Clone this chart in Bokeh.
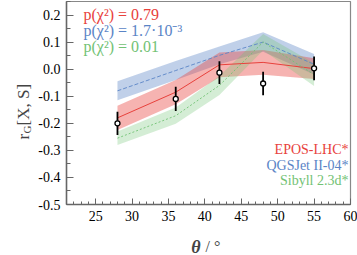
import numpy as np
from bokeh.plotting import figure
from bokeh.models import Label, FixedTicker, PrintfTickFormatter, Range1d
from bokeh.embed import file_html
from bokeh.resources import INLINE

# ---- data ----
theta = [28, 36, 42, 48, 55]
data_r = [-0.200, -0.110, -0.013, -0.053, 0.003]
data_err = [0.043, 0.045, 0.042, 0.043, 0.044]

epos = [-0.180, -0.085, 0.016, 0.025, 0.002]
epos_err = [0.045, 0.045, 0.046, 0.046, 0.038]
qgs = [-0.080, -0.005, 0.051, 0.100, 0.018]
qgs_err = [0.035, 0.035, 0.033, 0.036, 0.038]
sib = [-0.255, -0.172, -0.060, 0.100, -0.020]
sib_err = [0.025, 0.030, 0.035, 0.030, 0.042]

x_ticks = [25, 30, 35, 40, 45, 50, 55, 60]
y_ticks = [-0.5, -0.4, -0.3, -0.2, -0.1, 0.0, 0.1, 0.2]
pvals = ["p(\u03c7\u00b2) = 0.79", "p(\u03c7\u00b2) = 1.7\u00b710\u207b\u00b3", "p(\u03c7\u00b2) = 0.01"]
models = ["EPOS-LHC*", "QGSJet II-04*", "Sibyll 2.3d*"]

RED = "#e8413c"
BLUE = "#5a84c6"
GREEN = "#72c274"
SERIF = "Liberation Serif"

X0, X1, Y0, Y1 = 21.0, 60.0, -0.5, 0.25
W, H = 357, 255
FL, FR, FT, FB = 66, 350, 1, 204

p = figure(width=W, height=H, output_backend="svg", toolbar_location=None,
           x_range=Range1d(X0, X1), y_range=Range1d(Y0, Y1),
           min_border_left=FL, min_border_right=W - FR, min_border_top=FT,
           min_border_bottom=H - FB)
p.grid.visible = False
p.outline_line_color = "#888888"
p.outline_line_width = 1.2
p.background_fill_color = "white"
p.border_fill_color = "white"


def px2x(px):
    return X0 + (px - FL) / (FR - FL) * (X1 - X0)


def py2y(py):
    return Y1 - (py - FT) / (FB - FT) * (Y1 - Y0)


# axes
for ax in (p.xaxis[0], p.yaxis[0]):
    ax.axis_line_color = "#666666"
    ax.axis_line_width = 1.5
    ax.major_tick_line_color = "#666666"
    ax.minor_tick_line_color = "#666666"
    ax.major_tick_out = 0
    ax.minor_tick_out = 0
    ax.major_label_text_font = SERIF
    ax.major_label_text_font_size = "14px"
    ax.major_label_text_color = "black"
    ax.major_label_standoff = 6

p.xaxis.ticker = FixedTicker(ticks=x_ticks, minor_ticks=list(range(22, 61)))
p.xaxis.major_tick_in = 6
p.xaxis.minor_tick_in = 3
p.yaxis.ticker = FixedTicker(ticks=y_ticks,
                             minor_ticks=[-0.45, -0.35, -0.25, -0.15, -0.05, 0.05, 0.15, 0.25])
p.yaxis.major_tick_in = 7
p.yaxis.minor_tick_in = 4
p.yaxis.formatter = PrintfTickFormatter(format="%.1f")

th = np.array(theta, dtype=float)
for c, e, col, alpha in [(qgs, qgs_err, BLUE, 0.38), (epos, epos_err, RED, 0.40),
                         (sib, sib_err, GREEN, 0.30)]:
    c = np.array(c); e = np.array(e)
    p.varea(x=th, y1=c - e, y2=c + e, fill_color=col, fill_alpha=alpha)

p.line(th, qgs, line_color=BLUE, line_width=0.9, line_dash="4 2")
p.line(th, epos, line_color=RED, line_width=1.0)
p.line(th, sib, line_color=GREEN, line_width=0.9, line_dash="2 2")

dr = np.array(data_r); de = np.array(data_err)
p.segment(x0=th, y0=dr - de, x1=th, y1=dr + de, line_color="black", line_width=1.8)
p.scatter(th, dr, size=5, fill_color="white", line_color="black", line_width=1.3)

# legend of p-values
for i, (t, col) in enumerate(zip(pvals, [RED, BLUE, GREEN])):
    p.add_layout(Label(x=px2x(83), y=py2y(14 + 16 * i), text=t, text_font=SERIF,
                       text_font_size="16px", text_color=col, text_baseline="middle"))

for i, (t, col) in enumerate(zip(models, [RED, BLUE, GREEN])):
    p.add_layout(Label(x=px2x(348), y=py2y(149 + 15.5 * i), text=t, text_font=SERIF,
                       text_font_size="14px", text_color=col, text_baseline="middle",
                       text_align="right"))


def side_label(side, px, py, text, **kw):
    # labels outside the frame live in side panels so they are not clipped
    p.add_layout(Label(x=px2x(px), y=py2y(py), text=text, text_font=SERIF, **kw), side)


# y axis label r_G[X, S]
ang = np.pi / 2
side_label("below", 23, 139, "r", angle=ang, text_font_size="17px", text_align="left",
           text_baseline="alphabetic")
side_label("below", 26, 133, "G", angle=ang, text_font_size="11px", text_align="left",
           text_baseline="alphabetic")
side_label("left", 23, 125, "[X, S]", angle=ang, text_font_size="17px", text_align="left",
           text_baseline="alphabetic")

# x axis label theta / degree
side_label("left", 200, 246, "\u03b8", text_font_size="18px", text_font_style="bold italic",
           text_align="right", text_baseline="middle")
side_label("below", 205, 246, "/ \u00b0", text_font_size="16px", text_align="left",
           text_baseline="middle")

open("out.html", "w").write(file_html(p, INLINE))
